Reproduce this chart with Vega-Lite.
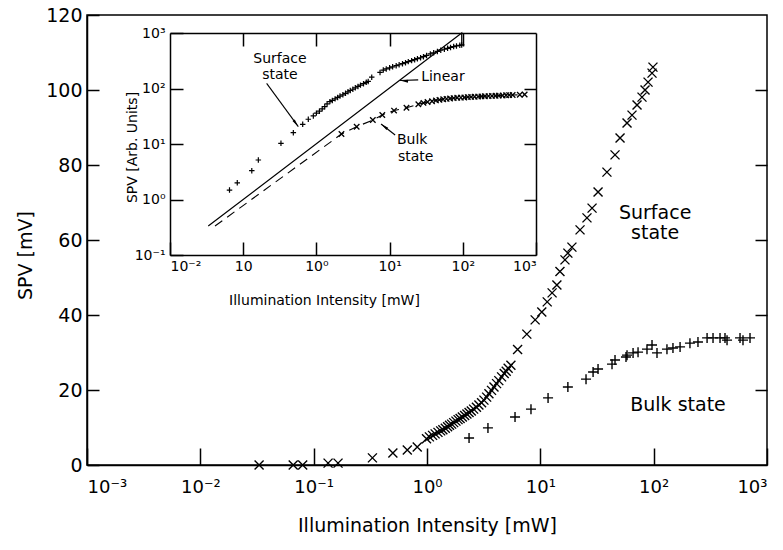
{
  "$schema": "https://vega.github.io/schema/vega-lite/v6.json",
  "width": 680,
  "height": 450,
  "autosize": "none",
  "padding": {"left": 87, "top": 15, "right": 16, "bottom": 85},
  "config": {
    "font": "DejaVu Sans",
    "view": {"stroke": "black", "strokeWidth": 1.5},
    "axis": {"grid": false, "domainColor": "black", "domainWidth": 1.5, "tickColor": "black", "tickWidth": 1.5, "labelColor": "black", "titleColor": "black", "titleFontWeight": "normal", "labelFont": "DejaVu Sans", "titleFont": "DejaVu Sans"},
    "text": {"font": "DejaVu Sans", "color": "black"}
  },
  "datasets": {
    "ms": [
      {"x":0.033,"y":0},{"x":0.066,"y":0},{"x":0.08,"y":0},{"x":0.134,"y":0.5},{"x":0.164,"y":0.5},{"x":0.33,"y":1.9},{"x":0.5,"y":3.2},{"x":0.67,"y":4.0},{"x":0.82,"y":4.8},{"x":0.99,"y":7.0},{"x":1.05,"y":7.5},{"x":1.12,"y":7.9},{"x":1.18,"y":8.3},{"x":1.25,"y":8.7},{"x":1.32,"y":9.1},{"x":1.38,"y":9.4},{"x":1.45,"y":9.8},{"x":1.52,"y":10.2},{"x":1.58,"y":10.6},{"x":1.65,"y":10.9},{"x":1.72,"y":11.3},{"x":1.8,"y":11.7},{"x":1.88,"y":12.1},{"x":1.96,"y":12.4},{"x":2.05,"y":12.8},{"x":2.15,"y":13.2},{"x":2.25,"y":13.6},{"x":2.35,"y":14.0},{"x":2.46,"y":14.4},{"x":2.58,"y":14.9},{"x":2.73,"y":15.4},{"x":2.87,"y":16.0},{"x":3.03,"y":16.6},{"x":3.18,"y":17.3},{"x":3.36,"y":18.1},{"x":3.52,"y":19.0},{"x":3.71,"y":19.9},{"x":3.9,"y":20.8},{"x":4.11,"y":21.7},{"x":4.3,"y":22.5},{"x":4.55,"y":23.5},{"x":4.8,"y":24.4},{"x":5.0,"y":25.0},{"x":5.2,"y":25.8},{"x":5.5,"y":26.6},{"x":6.3,"y":30.8},{"x":7.6,"y":34.9},{"x":9.0,"y":38.7},{"x":10.3,"y":40.8},{"x":11.5,"y":43.5},{"x":12.7,"y":45.9},{"x":14.0,"y":48.0},{"x":14.9,"y":51.6},{"x":16.5,"y":54.7},{"x":17.5,"y":56.5},{"x":19.0,"y":58.1},{"x":22.4,"y":62.7},{"x":25.8,"y":65.9},{"x":28.6,"y":68.5},{"x":32.3,"y":72.8},{"x":38.7,"y":78.1},{"x":45.6,"y":82.7},{"x":50.5,"y":87.2},{"x":58.2,"y":91.2},{"x":64.4,"y":93.3},{"x":71.3,"y":96.0},{"x":78.9,"y":98.1},{"x":83.9,"y":100.0},{"x":89.2,"y":102.1},{"x":96.7,"y":104.5},{"x":98.6,"y":106.1}
    ],
    "mb": [
      {"x":2.35,"y":7.2},{"x":3.45,"y":9.9},{"x":5.98,"y":12.8},{"x":8.27,"y":14.9},{"x":11.7,"y":17.9},{"x":17.5,"y":20.8},{"x":25.3,"y":22.9},{"x":29.2,"y":24.8},{"x":32.3,"y":25.6},{"x":42.9,"y":26.9},{"x":45.6,"y":28.0},{"x":57,"y":28.8},{"x":58.2,"y":29.3},{"x":65.8,"y":29.9},{"x":72.8,"y":30.1},{"x":87.3,"y":30.9},{"x":96.7,"y":32.0},{"x":107,"y":29.9},{"x":131,"y":30.9},{"x":148,"y":31.2},{"x":171,"y":31.5},{"x":209,"y":32.5},{"x":246,"y":32.8},{"x":296,"y":33.9},{"x":334,"y":33.9},{"x":385,"y":33.9},{"x":426,"y":33.9},{"x":444,"y":33.3},{"x":578,"y":33.9},{"x":614,"y":33.3},{"x":708,"y":33.9}
    ],
    "is": [
      {"x":0.065,"y":1.48},{"x":0.083,"y":2.0},{"x":0.131,"y":3.3},{"x":0.161,"y":5.15},{"x":0.328,"y":10.3},{"x":0.484,"y":16},{"x":0.65,"y":22.6},{"x":0.775,"y":27.9},{"x":0.908,"y":32},{"x":1.0,"y":36},{"x":1.1,"y":39},{"x":1.2,"y":43},{"x":1.3,"y":47},{"x":1.4,"y":53},{"x":1.53,"y":58},{"x":1.65,"y":61},{"x":1.8,"y":65},{"x":1.95,"y":69},{"x":2.1,"y":73},{"x":2.3,"y":77},{"x":2.5,"y":82},{"x":2.7,"y":87},{"x":2.9,"y":92},{"x":3.15,"y":97},{"x":3.4,"y":103},{"x":3.7,"y":109},{"x":4.0,"y":115},{"x":4.4,"y":122},{"x":4.8,"y":129},{"x":5.1,"y":134},{"x":5.7,"y":160},{"x":7.4,"y":195},{"x":8.2,"y":215},{"x":9.0,"y":225},{"x":10,"y":236},{"x":11,"y":246},{"x":12.3,"y":258},{"x":13.5,"y":268},{"x":15,"y":280},{"x":16.5,"y":292},{"x":18,"y":305},{"x":20,"y":318},{"x":22,"y":331},{"x":24,"y":344},{"x":26.5,"y":358},{"x":29,"y":374},{"x":32,"y":395},{"x":36,"y":420},{"x":40,"y":440},{"x":45,"y":465},{"x":50,"y":490},{"x":56,"y":510},{"x":62,"y":530},{"x":68,"y":550},{"x":75,"y":570},{"x":82,"y":585},{"x":91,"y":600},{"x":96.6,"y":610}
    ],
    "ib": [
      {"x":2.2,"y":15.1},{"x":3.55,"y":20.5},{"x":5.9,"y":27},{"x":7.95,"y":33.3},{"x":11.5,"y":40},{"x":17,"y":45},{"x":24.7,"y":52},{"x":29,"y":55},{"x":33,"y":57},{"x":38,"y":59},{"x":43,"y":61},{"x":48,"y":62.5},{"x":54,"y":64},{"x":60,"y":65},{"x":67,"y":66},{"x":75,"y":67},{"x":84,"y":68},{"x":94,"y":68.5},{"x":105,"y":69},{"x":117,"y":70},{"x":130,"y":70.5},{"x":145,"y":71},{"x":162,"y":71.5},{"x":180,"y":72},{"x":200,"y":72.5},{"x":225,"y":73},{"x":250,"y":73.5},{"x":280,"y":74},{"x":310,"y":74.5},{"x":350,"y":75},{"x":390,"y":75.5},{"x":430,"y":76},{"x":480,"y":76.5},{"x":600,"y":77},{"x":700,"y":78}
    ],
    "dash": [
      {"x":0.0412,"y":0.333},{"x":2.2,"y":15.1},{"x":3.55,"y":20.5},{"x":5.9,"y":27},{"x":7.95,"y":33.3},{"x":11.5,"y":40},{"x":17,"y":45},{"x":24.7,"y":52},{"x":29,"y":55},{"x":33,"y":57},{"x":38,"y":59},{"x":43,"y":61},{"x":48,"y":62.5},{"x":54,"y":64},{"x":60,"y":65},{"x":67,"y":66},{"x":75,"y":67},{"x":84,"y":68},{"x":94,"y":68.5},{"x":105,"y":69},{"x":117,"y":70},{"x":130,"y":70.5},{"x":145,"y":71},{"x":162,"y":71.5},{"x":180,"y":72},{"x":200,"y":72.5},{"x":225,"y":73},{"x":250,"y":73.5},{"x":280,"y":74},{"x":310,"y":74.5},{"x":350,"y":75},{"x":390,"y":75.5},{"x":430,"y":76},{"x":480,"y":76.5},{"x":600,"y":77},{"x":700,"y":78}
    ],
    "lin": [
      {"x":0.0333,"y":0.333,"o":1},{"x":96.6,"y":1000,"o":2},{"x":96.6,"y":610,"o":3}
    ],
    "arr": [
      {"a":"s","x":0.209,"y":124,"o":1},{"a":"s","x":0.566,"y":20.5,"o":2},
      {"a":"l","x":24.6,"y":143,"o":1},{"a":"l","x":13.9,"y":139,"o":2},
      {"a":"b","x":11.9,"y":14.5,"o":1},{"a":"b","x":7.64,"y":22.9,"o":2}
    ],
    "mlab": [
      {"x":103,"y":67.2,"t":"Surface"},{"x":103,"y":61.9,"t":"state"},{"x":164,"y":16,"t":"Bulk  state"}
    ],
    "ilabc": [
      {"x":0.318,"y":340,"t":"Surface"},{"x":0.318,"y":175,"t":"state"}
    ],
    "ilabl": [
      {"x":27,"y":161,"t":"Linear"},{"x":12.6,"y":11.8,"t":"Bulk"},{"x":13.0,"y":5.84,"t":"state"}
    ]
  },
  "layer": [
    {
      "encoding": {
        "x": {"field": "x", "type": "quantitative", "scale": {"type": "log", "domain": [0.001, 1000], "nice": false},
          "axis": {"orient": "bottom", "values": [0.001,0.01,0.1,1,10,100,1000], "tickSize": -17, "labelPadding": 30, "labelFontSize": 18,
            "labelExpr": "['10⁻³','10⁻²','10⁻¹','10⁰','10¹','10²','10³'][round(log(datum.value)/LN10)+3]",
            "title": "Illumination Intensity [mW]", "titleFontSize": 19, "titleY": 60, "titleBaseline": "middle"}},
        "y": {"field": "y", "type": "quantitative", "scale": {"domain": [0, 120], "nice": false},
          "axis": {"orient": "left", "values": [0,20,40,60,80,100,120], "tickSize": -12, "labelPadding": 17, "labelFontSize": 19,
            "title": "SPV [mV]", "titleFontSize": 19, "titleX": -62, "titleY": 240, "titleBaseline": "middle"}}
      },
      "layer": [
        {"data": {"name": "ms"}, "mark": {"type": "point", "shape": "M-1,-1L1,1M-1,1L1,-1", "size": 81, "filled": false, "color": "black", "strokeWidth": 1.4, "opacity": 1}},
        {"data": {"name": "mb"}, "mark": {"type": "point", "shape": "M-1,0L1,0M0,-1L0,1", "size": 100, "filled": false, "color": "black", "strokeWidth": 1.4, "opacity": 1}},
        {"data": {"name": "mlab"}, "mark": {"type": "text", "fontSize": 19, "align": "center", "baseline": "middle"}, "encoding": {"text": {"field": "t"}}}
      ]
    },
    {
      "data": {"name": "mb"},
      "mark": {"type": "point", "opacity": 0},
      "encoding": {
        "y": {"field": "y", "type": "quantitative", "scale": {"domain": [0, 120], "nice": false},
          "axis": {"orient": "right", "values": [20,40,60,80,100], "tickSize": -12, "labels": false, "domain": false, "title": null}}
      }
    },
    {
      "encoding": {
        "x": {"field": "x", "type": "quantitative", "scale": {"type": "log", "domain": [0.01, 1000], "range": [83, 449], "nice": false},
          "axis": {"orient": "bottom", "offset": -210, "values": [0.01,0.1,1,10,100,1000], "tickSize": -13, "labelPadding": 17, "labelFontSize": 14,
            "labelExpr": "['10⁻²','10','10⁰','10¹','10²','10³'][round(log(datum.value)/LN10)+2]",
            "title": "Illumination Intensity [mW]", "titleFontSize": 14, "titleX": 237, "titleY": 45, "titleBaseline": "middle"}},
        "y": {"field": "y", "type": "quantitative", "scale": {"type": "log", "domain": [0.1, 1000], "range": [240, 18], "nice": false},
          "axis": {"orient": "left", "offset": -83, "values": [0.1,1,10,100,1000], "tickSize": -13, "labelPadding": 18, "labelFontSize": 14,
            "labelExpr": "['10⁻¹','10⁰','10¹','10²','10³'][round(log(datum.value)/LN10)+1]",
            "title": "SPV [Arb. Units]", "titleFontSize": 14, "titleX": -38, "titleY": 132, "titleBaseline": "middle"}}
      },
      "layer": [
        {"data": {"name": "lin"}, "mark": {"type": "line", "color": "black", "strokeWidth": 1.2}, "encoding": {"order": {"field": "o"}}},
        {"data": {"name": "dash"}, "mark": {"type": "line", "color": "black", "strokeWidth": 1.1, "strokeDash": [9, 6]}, "encoding": {}},
        {"data": {"name": "is"}, "mark": {"type": "point", "shape": "M-1,0L1,0M0,-1L0,1", "size": 30, "filled": false, "color": "black", "strokeWidth": 1.2, "opacity": 1}},
        {"data": {"name": "ib"}, "mark": {"type": "point", "shape": "M-1,-1L1,1M-1,1L1,-1", "size": 30, "filled": false, "color": "black", "strokeWidth": 1.3, "opacity": 1}},
        {"data": {"name": "arr"}, "mark": {"type": "line", "color": "black", "strokeWidth": 1.1}, "encoding": {"detail": {"field": "a"}, "order": {"field": "o"}}},
        {"data": {"name": "arr"}, "transform": [{"filter": "datum.a == 's' && datum.o == 2"}], "mark": {"type": "point", "shape": "M0,0L-0.7,-4L0.7,-4Z", "size": 16, "filled": true, "color": "black", "opacity": 1, "angle": -36}},
        {"data": {"name": "arr"}, "transform": [{"filter": "datum.a == 'l' && datum.o == 2"}], "mark": {"type": "point", "shape": "M0,0L-0.7,-4L0.7,-4Z", "size": 16, "filled": true, "color": "black", "opacity": 1, "angle": 95}},
        {"data": {"name": "arr"}, "transform": [{"filter": "datum.a == 'b' && datum.o == 2"}], "mark": {"type": "point", "shape": "M0,0L-0.7,-4L0.7,-4Z", "size": 16, "filled": true, "color": "black", "opacity": 1, "angle": 128}},
        {"data": {"name": "ilabc"}, "mark": {"type": "text", "fontSize": 14, "align": "center", "baseline": "middle"}, "encoding": {"text": {"field": "t"}}},
        {"data": {"name": "ilabl"}, "mark": {"type": "text", "fontSize": 14, "align": "left", "baseline": "middle"}, "encoding": {"text": {"field": "t"}}}
      ]
    },
    {
      "data": {"name": "is"},
      "mark": {"type": "point", "opacity": 0},
      "encoding": {
        "x": {"field": "x", "type": "quantitative", "scale": {"type": "log", "domain": [0.01, 1000], "range": [83, 449], "nice": false},
          "axis": {"orient": "top", "offset": -18, "values": [0.1,1,10,100], "tickSize": -13, "labels": false, "title": null}},
        "y": {"field": "y", "type": "quantitative", "scale": {"type": "log", "domain": [0.1, 1000], "range": [240, 18], "nice": false},
          "axis": {"orient": "right", "offset": -231, "values": [1,10,100], "tickSize": -12, "labels": false, "title": null}}
      }
    }
  ],
  "resolve": {"scale": {"x": "independent", "y": "independent"}, "axis": {"x": "independent", "y": "independent"}}
}
